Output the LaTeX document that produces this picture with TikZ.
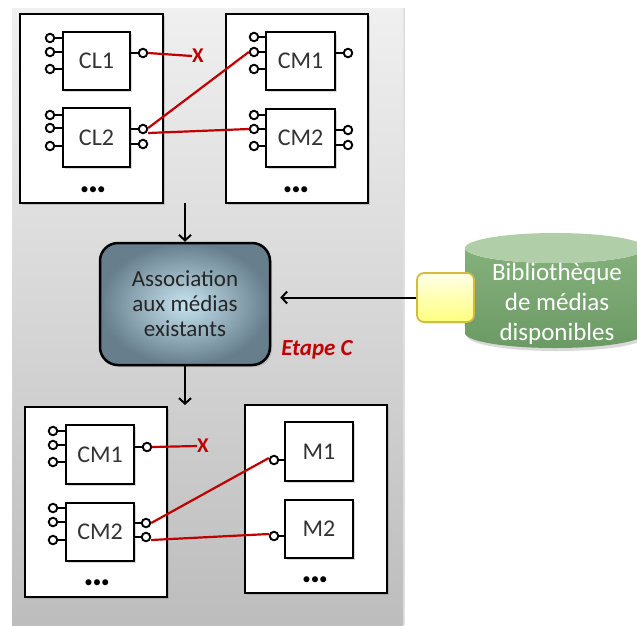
\documentclass[tikz,border=0pt]{standalone}
\usepackage{fontspec}
\setmainfont{Carlito}
\usetikzlibrary{arrows.meta,shadows}
\definecolor{redl}{HTML}{C00000}
\definecolor{boxin}{HTML}{C6E3EF}
\definecolor{boxout}{HTML}{677F8C}
\definecolor{cyltop}{HTML}{B0CFA8}
\definecolor{cylA}{HTML}{84B07C}
\definecolor{cylB}{HTML}{6C9A65}
\definecolor{yelborder}{HTML}{D2BC3C}
\newcommand\stubL[2]{\draw[stubline] (#1.east) -- (#1 -| #2.west);}
\newcommand\stubR[2]{\draw[stubline] (#1.west) -- (#1 -| #2.east);}
\begin{document}
\begin{tikzpicture}[x=1pt,y=-1pt,
  outer/.style={draw, line width=2.8pt, fill=white, inner sep=0,
    drop shadow={shadow xshift=2pt, shadow yshift=-2pt, opacity=0.35}},
  chip/.style={draw, line width=2.5pt, fill=white, minimum width=67pt, minimum height=58pt,
    inner sep=0, font=\fontsize{24}{26}\selectfont, text=black!80,
    drop shadow={shadow xshift=1.5pt, shadow yshift=-1.5pt, opacity=0.3}},
  port/.style={circle, draw, line width=1.9pt, fill=white, minimum size=8.5pt, inner sep=0},
  stubline/.style={line width=2.2pt},
  wire/.style={draw=redl, line width=2.2pt},
  xmark/.style={text=redl, font=\bfseries\fontsize{21}{21}\selectfont, inner sep=0},
  dots/.style={font=\fontsize{17}{17}\selectfont, inner sep=0},
  flow/.style={line width=2pt, -{Straight Barb[length=5.5pt,width=12pt,line width=2pt]}}
]
\useasboundingbox (0,0) rectangle (637,625);
\begin{scope}
\clip (0,0) rectangle (637,625);
% grey panel
\shade[top color=black!6, bottom color=black!26,
  drop shadow={shadow xshift=2pt, shadow yshift=0pt, opacity=0.25}]
  (12,8) rectangle (403,625);

% outer boxes
\node[outer, minimum width=143pt, minimum height=189pt] (tl) at (91.5,108.5) {};
\node[outer, minimum width=142pt, minimum height=189pt] (tr) at (297,108.5) {};
\node[outer, minimum width=142pt, minimum height=190pt] (bl) at (96,502) {};
\node[outer, minimum width=142pt, minimum height=188pt] (br) at (316,499) {};

% chips
\node[chip] (cl1) at (96.5,61) {CL1};
\node[chip, minimum height=59pt] (cl2) at (96.5,137.5) {CL2};
\node[chip, minimum width=69pt] (cm1) at (300.5,61) {CM1};
\node[chip, minimum width=69pt] (cm2) at (300.5,138) {CM2};
\node[chip, minimum width=68pt, minimum height=59pt] (bm1) at (100,454.5) {CM1};
\node[chip, minimum width=68pt] (bm2) at (100,532) {CM2};
\node[chip, minimum width=68pt, minimum height=59pt] (m1) at (319,451.5) {M1};
\node[chip, minimum width=68pt] (m2) at (319,529) {M2};

% dots
\node[dots] (d1) at (93,191) {•••};
\node[dots] (d2) at (296,191) {•••};
\node[dots] (d3) at (97,584) {•••};
\node[dots] (d4) at (315,581) {•••};

% X marks
\node[xmark] (x1) at (198,56) {X};
\node[xmark] (x2) at (203,446) {X};

% ports
\foreach \n/\y in {a/38,b/52,c/69} {\node[port] (cl1\n) at (50,\y) {}; \stubL{cl1\n}{cl1}}
\node[port] (cl1o) at (143,53) {}; \stubR{cl1o}{cl1}
\foreach \n/\y in {a/115,b/128,c/146} {\node[port] (cl2\n) at (50,\y) {}; \stubL{cl2\n}{cl2}}
\node[port] (cl2o) at (143,129) {}; \stubR{cl2o}{cl2}
\node[port] (cl2p) at (143,144) {}; \stubR{cl2p}{cl2}
\foreach \n/\y in {a/37,b/52,c/69} {\node[port] (cm1\n) at (254,\y) {}; \stubL{cm1\n}{cm1}}
\node[port] (cm1o) at (348,53) {}; \stubR{cm1o}{cm1}
\foreach \n/\y in {a/115,b/129,c/146} {\node[port] (cm2\n) at (254,\y) {}; \stubL{cm2\n}{cm2}}
\node[port] (cm2o) at (348,130) {}; \stubR{cm2o}{cm2}
\node[port] (cm2p) at (348,145) {}; \stubR{cm2p}{cm2}
\foreach \n/\y in {a/431,b/445,c/462} {\node[port] (bm1\n) at (53,\y) {}; \stubL{bm1\n}{bm1}}
\node[port] (bm1o) at (147,447) {}; \stubR{bm1o}{bm1}
\foreach \n/\y in {a/508,b/522,c/540} {\node[port] (bm2\n) at (53,\y) {}; \stubL{bm2\n}{bm2}}
\node[port] (bm2o) at (146,523) {}; \stubR{bm2o}{bm2}
\node[port] (bm2p) at (146,537) {}; \stubR{bm2p}{bm2}
\node[port] (m1p) at (274,460) {}; \stubL{m1p}{m1}
\node[port] (m2p) at (274,536) {}; \stubL{m2p}{m2}

% wires
\draw[wire] (cl1o.east) -- (x1.west);
\draw[wire] ([yshift=1pt]cl2o.east) -- (cm1b.west);
\draw[wire] ([yshift=-4pt]cl2o.east) -- (cm2b.west);
\draw[wire] (bm1o.east) -- (x2.west);
\draw[wire] (bm2o.east) -- ([yshift=2pt]m1p.west);
\draw[wire] ([yshift=-3pt]bm2p.east) -- ([yshift=2pt]m2p.west);

% central box
\node[draw, line width=2.5pt, rounded corners=18pt, minimum width=170pt, minimum height=122pt,
  inner color=boxin, outer color=boxout,
  align=center, font=\fontsize{23}{25}\selectfont, text=black!85,
  drop shadow={shadow xshift=2pt, shadow yshift=-2pt, opacity=0.3}]
  (assoc) at (185,304) {Association\\aux médias\\existants};
\node[text=redl, font=\bfseries\itshape\fontsize{23}{23}\selectfont, inner sep=0]
  (etape) at (317,350) {Etape C};

% cylinder
\shade[top color=cylA, bottom color=cylB,
  drop shadow={shadow xshift=2pt, shadow yshift=-3pt, opacity=0.3}]
  (465,248) -- (465,333) arc[start angle=180, end angle=0, x radius=90, y radius=15]
  -- (645,248) arc[start angle=0, end angle=180, x radius=90, y radius=15] -- cycle;
\fill[cyltop] (555,248) ellipse [x radius=90, y radius=15];
\node[text=white, align=center, font=\fontsize{25}{30}\selectfont] (lib) at (557,304)
  {Bibliothèque\\de médias\\disponibles};

% yellow box
\node[draw=yelborder, line width=1.8pt, rounded corners=7pt,
  minimum width=57pt, minimum height=49pt, top color=yellow!10, bottom color=yellow!50,
  drop shadow={shadow xshift=1.5pt, shadow yshift=-1.5pt, opacity=0.25}]
  (yel) at (445.5,297.5) {};

% arrows
\coordinate (topout) at (185,203);
\coordinate (botin) at (185,405);
\draw[flow] (topout) -- (assoc.north);
\draw[flow] (assoc.south) -- (botin);
\draw[flow, shorten >=9pt] (yel.west) -- (yel.west -| assoc.east);
\end{scope}
\end{tikzpicture}
\end{document}
